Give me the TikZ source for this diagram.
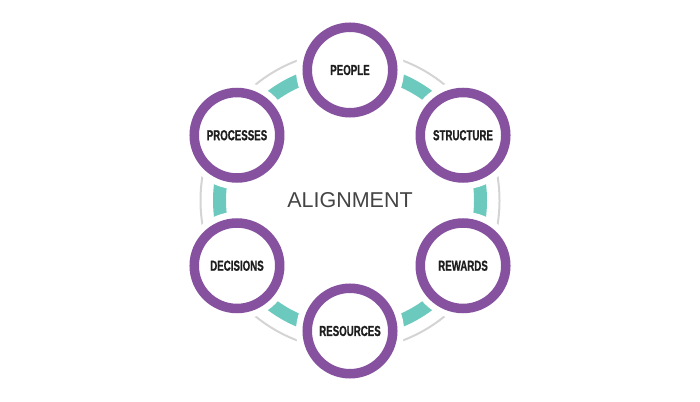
\documentclass[tikz,border=0pt]{standalone}
\usepackage{fontspec}
\setmainfont{Liberation Sans}
\newfontfamily\labelfont[FakeStretch=0.67,FakeBold=0.8]{Liberation Sans}
\usetikzlibrary{backgrounds}
\definecolor{ringpurple}{HTML}{8652A0}
\definecolor{linkteal}{HTML}{6CC9BD}
\definecolor{ringgray}{HTML}{D4D4D4}
\definecolor{labelgray}{HTML}{1E1E1E}
\definecolor{titlegray}{HTML}{444444}
\tikzset{
  area/.style={circle, minimum size=85.5pt, inner sep=0pt,
    draw=ringpurple, line width=9.5pt, fill=white,
    preaction={draw=white, line width=22.5pt},
    font=\labelfont\bfseries\fontsize{14.5}{16}\selectfont, text=labelgray},
  link/.style={draw=linkteal, line width=13pt},
  outer/.style={draw=ringgray, line width=2pt},
}
\begin{document}
\begin{tikzpicture}[x=1pt,y=1pt]
  \useasboundingbox (0,0) rectangle (700,401);
  \begin{scope}[shift={(350,200.5)}]
    \coordinate (hub) at (0,0);
    \draw
      (90:130.5) node[area] (people){PEOPLE}
      (30:130.5) node[area] (structure){STRUCTURE}
      (-30:130.5) node[area] (rewards){REWARDS}
      (-90:130.5) node[area] (resources){RESOURCES}
      (-150:130.5) node[area] (decisions){DECISIONS}
      (150:130.5) node[area] (processes){PROCESSES};
    \node[font=\fontsize{21.5}{24}\selectfont, text=titlegray] (title) at (hub) {ALIGNMENT};
    \begin{scope}[on background layer]
      \draw[outer] (hub) circle[radius=149.5];
      \foreach \n/\a in {people/90, processes/150, decisions/210,
          resources/270, rewards/330, structure/30}
        \draw[link] (\n.center) arc[start angle=\a, delta angle=60, radius=130.5];
    \end{scope}
  \end{scope}
\end{tikzpicture}
\end{document}
